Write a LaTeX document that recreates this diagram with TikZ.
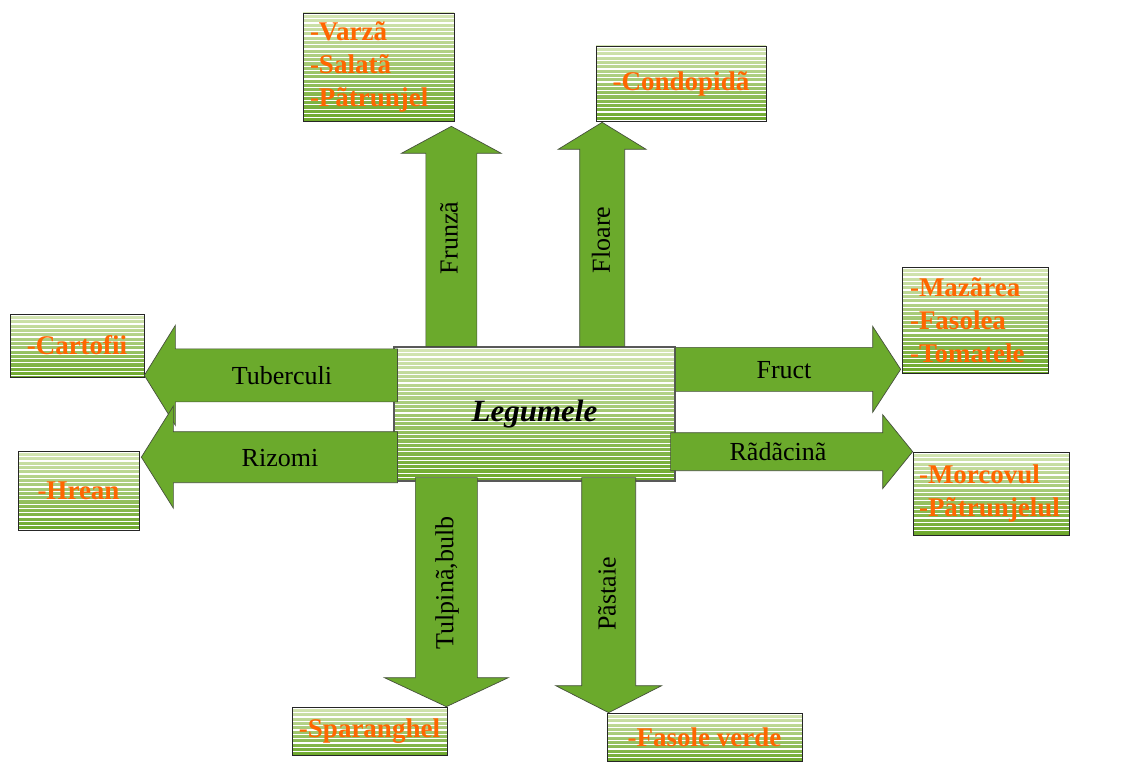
\documentclass[tikz,border=0pt]{standalone}
\usepackage{fontspec}
\setmainfont{Liberation Serif}
\usetikzlibrary{calc}

\definecolor{arrowgreen}{RGB}{107,170,44}
\definecolor{arrowedge}{RGB}{70,80,60}
\definecolor{boxtop}{RGB}{214,230,182}
\definecolor{boxmid}{RGB}{160,200,110}
\definecolor{boxbottom}{RGB}{108,168,42}
\definecolor{veggieorange}{RGB}{255,102,0}

\begin{document}
\begin{tikzpicture}[
    x=1pt, y=-1pt,
    stripes/.style={path picture={
        \foreach \s in {1.5,5.8,...,200}
          \draw[white, line width={1.4pt-0.004pt*\s}]
            ([yshift=-\s pt]path picture bounding box.north west) --
            ([yshift=-\s pt]path picture bounding box.north east);}},
    box/.style={rectangle, draw=black!85, line width=0.7pt, top color=boxtop, middle color=boxmid, bottom color=boxbottom, stripes,
        inner sep=0pt, align=center, text=veggieorange, font=\fontsize{27}{33}\selectfont\bfseries},
    list/.style={box, align=left, inner xsep=7pt},
    main/.style={box, draw=black!65, line width=1.2pt, text=black, font=\fontsize{31}{36}\selectfont\bfseries\itshape},
    lbl/.style={inner sep=0pt, font=\fontsize{26}{30}\selectfont},
    blockarrow/.style n args={3}{fill=arrowgreen, draw=arrowedge, line width=0.7pt,
        to path={($(\tikztostart)!#1!90:(\tikztotarget)$)
          -- ($(\tikztotarget)!#3!(\tikztostart)!#1!-90:(\tikztostart)$)
          -- ($(\tikztotarget)!#3!(\tikztostart)!#2!-90:(\tikztostart)$)
          -- (\tikztotarget)
          -- ($(\tikztotarget)!#3!(\tikztostart)!#2!90:(\tikztostart)$)
          -- ($(\tikztotarget)!#3!(\tikztostart)!#1!90:(\tikztostart)$)
          -- ($(\tikztostart)!#1!-90:(\tikztotarget)$) -- cycle}}
]
\useasboundingbox (0,0) rectangle (1122,762);

% Boxes
\node (legume) [main, minimum width=281pt, minimum height=134pt] at (534.5,414) {Legumele};
\node (varza) [list, text width=137pt, minimum height=108pt] at (378.5,67) {-Varzã\\-Salatã\\-Pãtrunjel};
\node (condopida) [box, minimum width=170pt, minimum height=75pt] at (681,83.5) {-Condopidã};
\node (mazarea) [list, inner xsep=8pt, text width=130pt, minimum height=106pt] at (975,320) {-Mazãrea\\-Fasolea\\-Tomatele};
\node (morcovul) [list, inner xsep=6pt, text width=144pt, minimum height=83pt] at (991,493.5) {-Morcovul\\-Pãtrunjelul};
\node (cartofii) [box, minimum width=134pt, minimum height=63pt] at (77,345.5) {-Cartofii};
\node (hrean) [box, minimum width=121pt, minimum height=79pt] at (78.5,490.5) {-Hrean};
\node (sparanghel) [box, minimum width=155pt, minimum height=48pt] at (369.5,731) {-Sparanghel};
\node (fasole) [box, minimum width=195pt, minimum height=48pt] at (704.5,737) {-Fasole verde};

% Arrow ends
\coordinate (frunzaTip) at ($(varza.south east)+(-3,5)$);
\coordinate (floareTip) at ($(condopida.south west)+(6.5,1)$);
\coordinate (fructTip) at ($(mazarea.south west)+(-1,-4)$);
\coordinate (radacinaTip) at (morcovul.north west);
\coordinate (tuberculiTip) at ($(cartofii.south east)+(0,-2)$);
\coordinate (rizomiTip) at ($(hrean.north east)+(2,6.5)$);
\coordinate (tulpinaTip) at ($(sparanghel.north east)+(-1,0)$);
\coordinate (pastaieTip) at ($(fasole.north west)+(2,0)$);

\coordinate (frunzaS) at (frunzaTip |- legume.north);
\coordinate (floareS) at (floareTip |- legume.north);
\coordinate (fructS) at (fructTip -| legume.east);
\coordinate (radacinaS) at ($(radacinaTip -| legume.east)+(-5,0)$);
\coordinate (tuberculiS) at ($(tuberculiTip -| legume.west)+(4,0)$);
\coordinate (rizomiS) at ($(rizomiTip -| legume.west)+(4,0)$);
\coordinate (tulpinaS) at ($(tulpinaTip |- legume.south)+(0,-4)$);
\coordinate (pastaieS) at ($(pastaieTip |- legume.south)+(0,-4)$);

% Arrows
\draw [blockarrow={25.5pt}{50pt}{27pt}] (frunzaS) to (frunzaTip);
\draw [blockarrow={22.5pt}{44pt}{27pt}] (floareS) to (floareTip);
\draw [blockarrow={22pt}{43pt}{28pt}] (fructS) to (fructTip);
\draw [blockarrow={19pt}{37pt}{30pt}] (radacinaS) to (radacinaTip);
\draw [blockarrow={26.5pt}{50pt}{31pt}] (tuberculiS) to (tuberculiTip);
\draw [blockarrow={25.5pt}{51pt}{32pt}] (rizomiS) to (rizomiTip);
\draw [blockarrow={31pt}{62pt}{29pt}] (tulpinaS) to (tulpinaTip);
\draw [blockarrow={27pt}{53pt}{27pt}] (pastaieS) to (pastaieTip);

% Labels
\node (frunzaLbl) [lbl, rotate=90] at (449,238) {Frunzã};
\node (floareLbl) [lbl, rotate=90] at (601,240) {Floare};
\node (tuberculiLbl) [lbl] at (282,376) {Tuberculi};
\node (rizomiLbl) [lbl] at (280,458) {Rizomi};
\node (fructLbl) [lbl] at (784,370) {Fruct};
\node (radacinaLbl) [lbl] at (778,452) {Rãdãcinã};
\node (tulpinaLbl) [lbl, rotate=90] at (447,583) {Tulpinã,bulb};
\node (pastaieLbl) [lbl, rotate=90] at (607,594) {Pãstaie};

\end{tikzpicture}
\end{document}
